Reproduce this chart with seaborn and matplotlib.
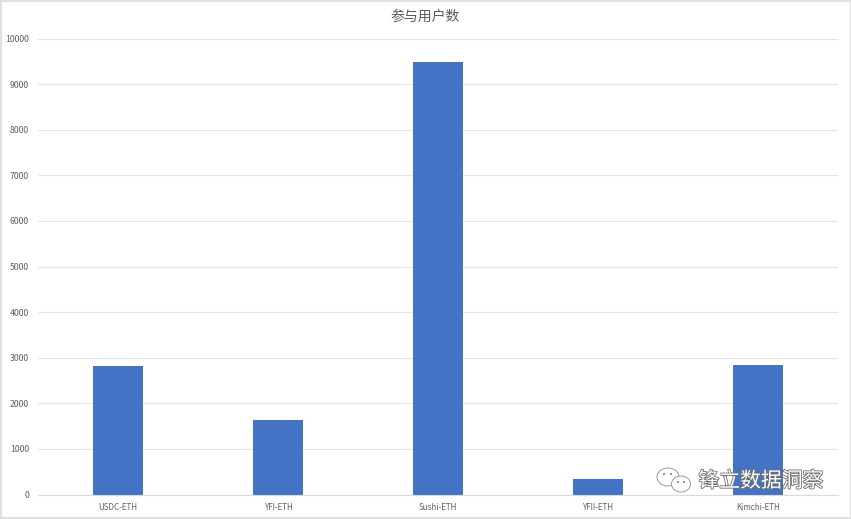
import matplotlib
matplotlib.use("Agg")
import matplotlib.pyplot as plt
import matplotlib.patheffects as pe
from matplotlib.patches import Ellipse, Rectangle
import pandas as pd
import seaborn as sns

# ---- Data ----
PAIRS = ["USDC-ETH", "YFI-ETH", "Sushi-ETH", "YFII-ETH", "Kimchi-ETH"]
USERS = [2820, 1640, 9480, 350, 2840]
Y_TICKS = [0, 1000, 2000, 3000, 4000, 5000, 6000, 7000, 8000, 9000, 10000]
TITLE = "参与用户数"
WATERMARK = "锋立数据洞察"

W, H = 851, 519


def main():
    sns.set_theme(style="white")
    plt.rcParams["font.family"] = ["Noto Sans CJK SC", "DejaVu Sans"]

    df = pd.DataFrame({"pair": PAIRS, "users": USERS})

    fig = plt.figure(figsize=(W / 100, H / 100), dpi=100)
    ax = fig.add_axes([38 / W, 1 - 494.5 / H, 800 / W, 456 / H])
    ax.set_axisbelow(True)

    sns.barplot(data=df, x="pair", y="users", color="#4472C4", saturation=1,
                width=0.3125, linewidth=0, ax=ax)

    ax.set_xlim(-0.5, 4.5)
    ax.set_ylim(0, 10000)
    ax.set_yticks(Y_TICKS)
    ax.set_xlabel("")
    ax.set_ylabel("")
    ax.grid(axis="y", color="#E4E4E4", linewidth=0.8)
    ax.tick_params(axis="both", length=0, labelcolor="#606060")
    ax.tick_params(axis="x", pad=6, labelsize=5.8)
    ax.tick_params(axis="y", pad=6.5, labelsize=6.3)
    for side in ["top", "right", "left"]:
        ax.spines[side].set_visible(False)
    ax.spines["bottom"].set_color("#DADADA")
    ax.spines["bottom"].set_linewidth(0.8)

    fig.text(425 / W, 1 - 16.5 / H, TITLE, ha="center", va="center",
             fontsize=10, color="#5A5A5A")

    # thin screenshot border
    fig.add_artist(Rectangle((0.5 / W, 1 / H), (W - 1) / W, (H - 2) / H,
                             transform=fig.transFigure, fill=False,
                             edgecolor="#E0E0E0", linewidth=1.5))

    # watermark
    wm = fig.text(761 / W, 1 - 481 / H, WATERMARK, ha="center", va="center",
                  fontsize=15, color="white", zorder=10)
    wm.set_path_effects([pe.withStroke(linewidth=1.2, foreground="#6E6E6E")])

    # wechat style bubbles
    for cx, cy, bw, bh in [(668, 477, 22, 18), (681, 484, 19, 16)]:
        fig.add_artist(Ellipse((cx / W, 1 - cy / H), bw / W, bh / H,
                               transform=fig.transFigure, facecolor="white",
                               edgecolor="#9A9A9A", linewidth=0.7, zorder=9))
    for cx, cy in [(664, 474), (671, 474), (678, 482), (684, 482)]:
        fig.add_artist(Ellipse((cx / W, 1 - cy / H), 2 / W, 2 / H,
                               transform=fig.transFigure, facecolor="#777777",
                               edgecolor="none", zorder=10))

    fig.savefig("out.png", dpi=100)
    plt.close(fig)


if __name__ == "__main__":
    main()
